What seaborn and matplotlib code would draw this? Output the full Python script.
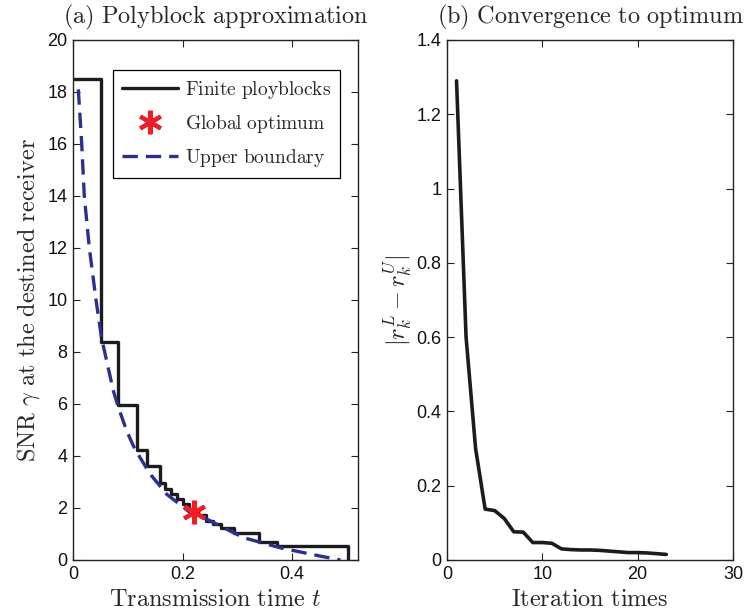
import numpy as np
import pandas as pd
import matplotlib
matplotlib.use("Agg")
import matplotlib.pyplot as plt
from matplotlib.ticker import FuncFormatter
from matplotlib.lines import Line2D
import seaborn as sns

# ---- data ----
# Finite polyblocks: step levels starting at given t (steps-post)
step_t = [0.0, 0.0505, 0.083, 0.116, 0.1345, 0.158, 0.168, 0.178, 0.190, 0.200,
          0.212, 0.228, 0.242, 0.256, 0.270, 0.293, 0.340, 0.373, 0.501]
step_snr = [18.5, 8.38, 5.95, 4.25, 3.62, 2.98, 2.75, 2.52, 2.33, 2.15,
            1.95, 1.72, 1.50, 1.37, 1.24, 1.02, 0.70, 0.52, 0.0]

# Upper boundary (dashed)
ub_t = [0.0097, 0.0159, 0.0206, 0.0298, 0.042, 0.052, 0.0737, 0.083, 0.098, 0.113,
        0.141, 0.171, 0.214, 0.232, 0.275, 0.311, 0.378, 0.451, 0.488]
ub_snr = [18.1, 16.0, 14.0, 12.0, 10.0, 8.55, 6.5, 5.86, 4.96, 4.26,
          3.30, 2.53, 1.82, 1.70, 1.24, 0.86, 0.47, 0.15, 0.0]

# Global optimum
opt_t = [0.22]
opt_snr = [1.85]

# Convergence
iters = list(range(1, 24))
gap = [1.29, 0.60, 0.30, 0.137, 0.133, 0.112, 0.076, 0.075, 0.047, 0.047, 0.045,
       0.030, 0.028, 0.027, 0.027, 0.026, 0.024, 0.022, 0.020, 0.020, 0.019, 0.017, 0.015]

df_step = pd.DataFrame({"t": step_t, "snr": step_snr})
df_ub = pd.DataFrame({"t": ub_t, "snr": ub_snr})
df_opt = pd.DataFrame({"t": opt_t, "snr": opt_snr})
df_conv = pd.DataFrame({"it": iters, "gap": gap})

sns.set_style("ticks")
plt.rcParams["font.family"] = ["Liberation Sans", "DejaVu Sans"]
plt.rcParams["mathtext.fontset"] = "cm"

BLACK = "#1c1c1c"
BLUE = "#2a2f95"
RED = "#f41c24"
TICK_FS = 13
LAB_FS = 17.5

fig = plt.figure(figsize=(7.45, 6.15), dpi=100)
ax1 = fig.add_axes([73/745, 1-560/615, 285/745, 520/615])
ax2 = fig.add_axes([447/745, 1-560/615, 286/745, 520/615])

# --- left panel ---
sns.lineplot(data=df_step, x="t", y="snr", ax=ax1, color=BLACK, lw=2.4,
             drawstyle="steps-post", estimator=None, sort=False)
sns.lineplot(data=df_ub, x="t", y="snr", ax=ax1, color=BLUE, lw=2.4,
             estimator=None, sort=False, dashes=False, linestyle=(0, (4.6, 2.4)))
ax1.plot(df_opt["t"], df_opt["snr"], linestyle="none", marker=(6, 2, 0),
         markersize=17, mew=3, color=RED, zorder=5)

ax1.set_xlim(0, 0.52)
ax1.set_ylim(0, 20)
ax1.set_xticks([0, 0.2, 0.4])
ax1.set_yticks(range(0, 21, 2))
ax1.xaxis.set_major_formatter(FuncFormatter(lambda v, p: f"{v:g}"))
ax1.set_xlabel(r"$\mathrm{Transmission\ time}\ t$", fontsize=LAB_FS, labelpad=5)
ax1.set_ylabel(r"$\mathrm{SNR}\ \gamma\ \mathrm{at\ the\ destined\ receiver}$",
               fontsize=LAB_FS, labelpad=4)
ax1.set_title(r"$\mathrm{(a)\ Polyblock\ approximation}$", fontsize=LAB_FS, pad=12)

handles = [
    Line2D([], [], color=BLACK, lw=2.4),
    Line2D([], [], linestyle="none", marker=(6, 2, 0), markersize=17, mew=3, color=RED),
    Line2D([], [], color=BLUE, lw=2.4, linestyle=(0, (4.6, 2.4))),
]
labels = [r"$\mathrm{Finite\ ployblocks}$", r"$\mathrm{Global\ optimum}$",
          r"$\mathrm{Upper\ boundary}$"]
leg = ax1.legend(handles, labels, loc="upper right", bbox_to_anchor=(0.937, 0.942),
                 fontsize=14, frameon=True, fancybox=False, framealpha=1,
                 edgecolor="black", handlelength=2.9, borderpad=0.45,
                 labelspacing=0.62, handletextpad=0.35, borderaxespad=0)
leg.get_frame().set_linewidth(0.9)

# --- right panel ---
sns.lineplot(data=df_conv, x="it", y="gap", ax=ax2, color=BLACK, lw=2.6,
             estimator=None, sort=False)
ax2.set_xlim(0, 30)
ax2.set_ylim(0, 1.4)
ax2.set_xticks([0, 10, 20, 30])
ax2.set_yticks(np.arange(0, 1.41, 0.2))
ax2.yaxis.set_major_formatter(FuncFormatter(lambda v, p: f"{round(v, 2):g}"))
ax2.set_xlabel(r"$\mathrm{Iteration\ times}$", fontsize=LAB_FS, labelpad=5)
ax2.set_ylabel(r"$|r_k^L - r_k^U|$", fontsize=LAB_FS, labelpad=2)
ax2.set_title(r"$\mathrm{(b)\ Convergence\ to\ optimum}$", fontsize=LAB_FS, pad=12)

for ax in (ax1, ax2):
    for s in ax.spines.values():
        s.set_visible(True)
        s.set_linewidth(1.0)
        s.set_color("#222222")
    ax.tick_params(direction="in", top=True, right=True, length=5, width=0.8,
                   labelsize=TICK_FS, colors="#222222", pad=4)
    ax.tick_params(axis="both", labelcolor="#111111")

fig.savefig("out.png", dpi=100)
